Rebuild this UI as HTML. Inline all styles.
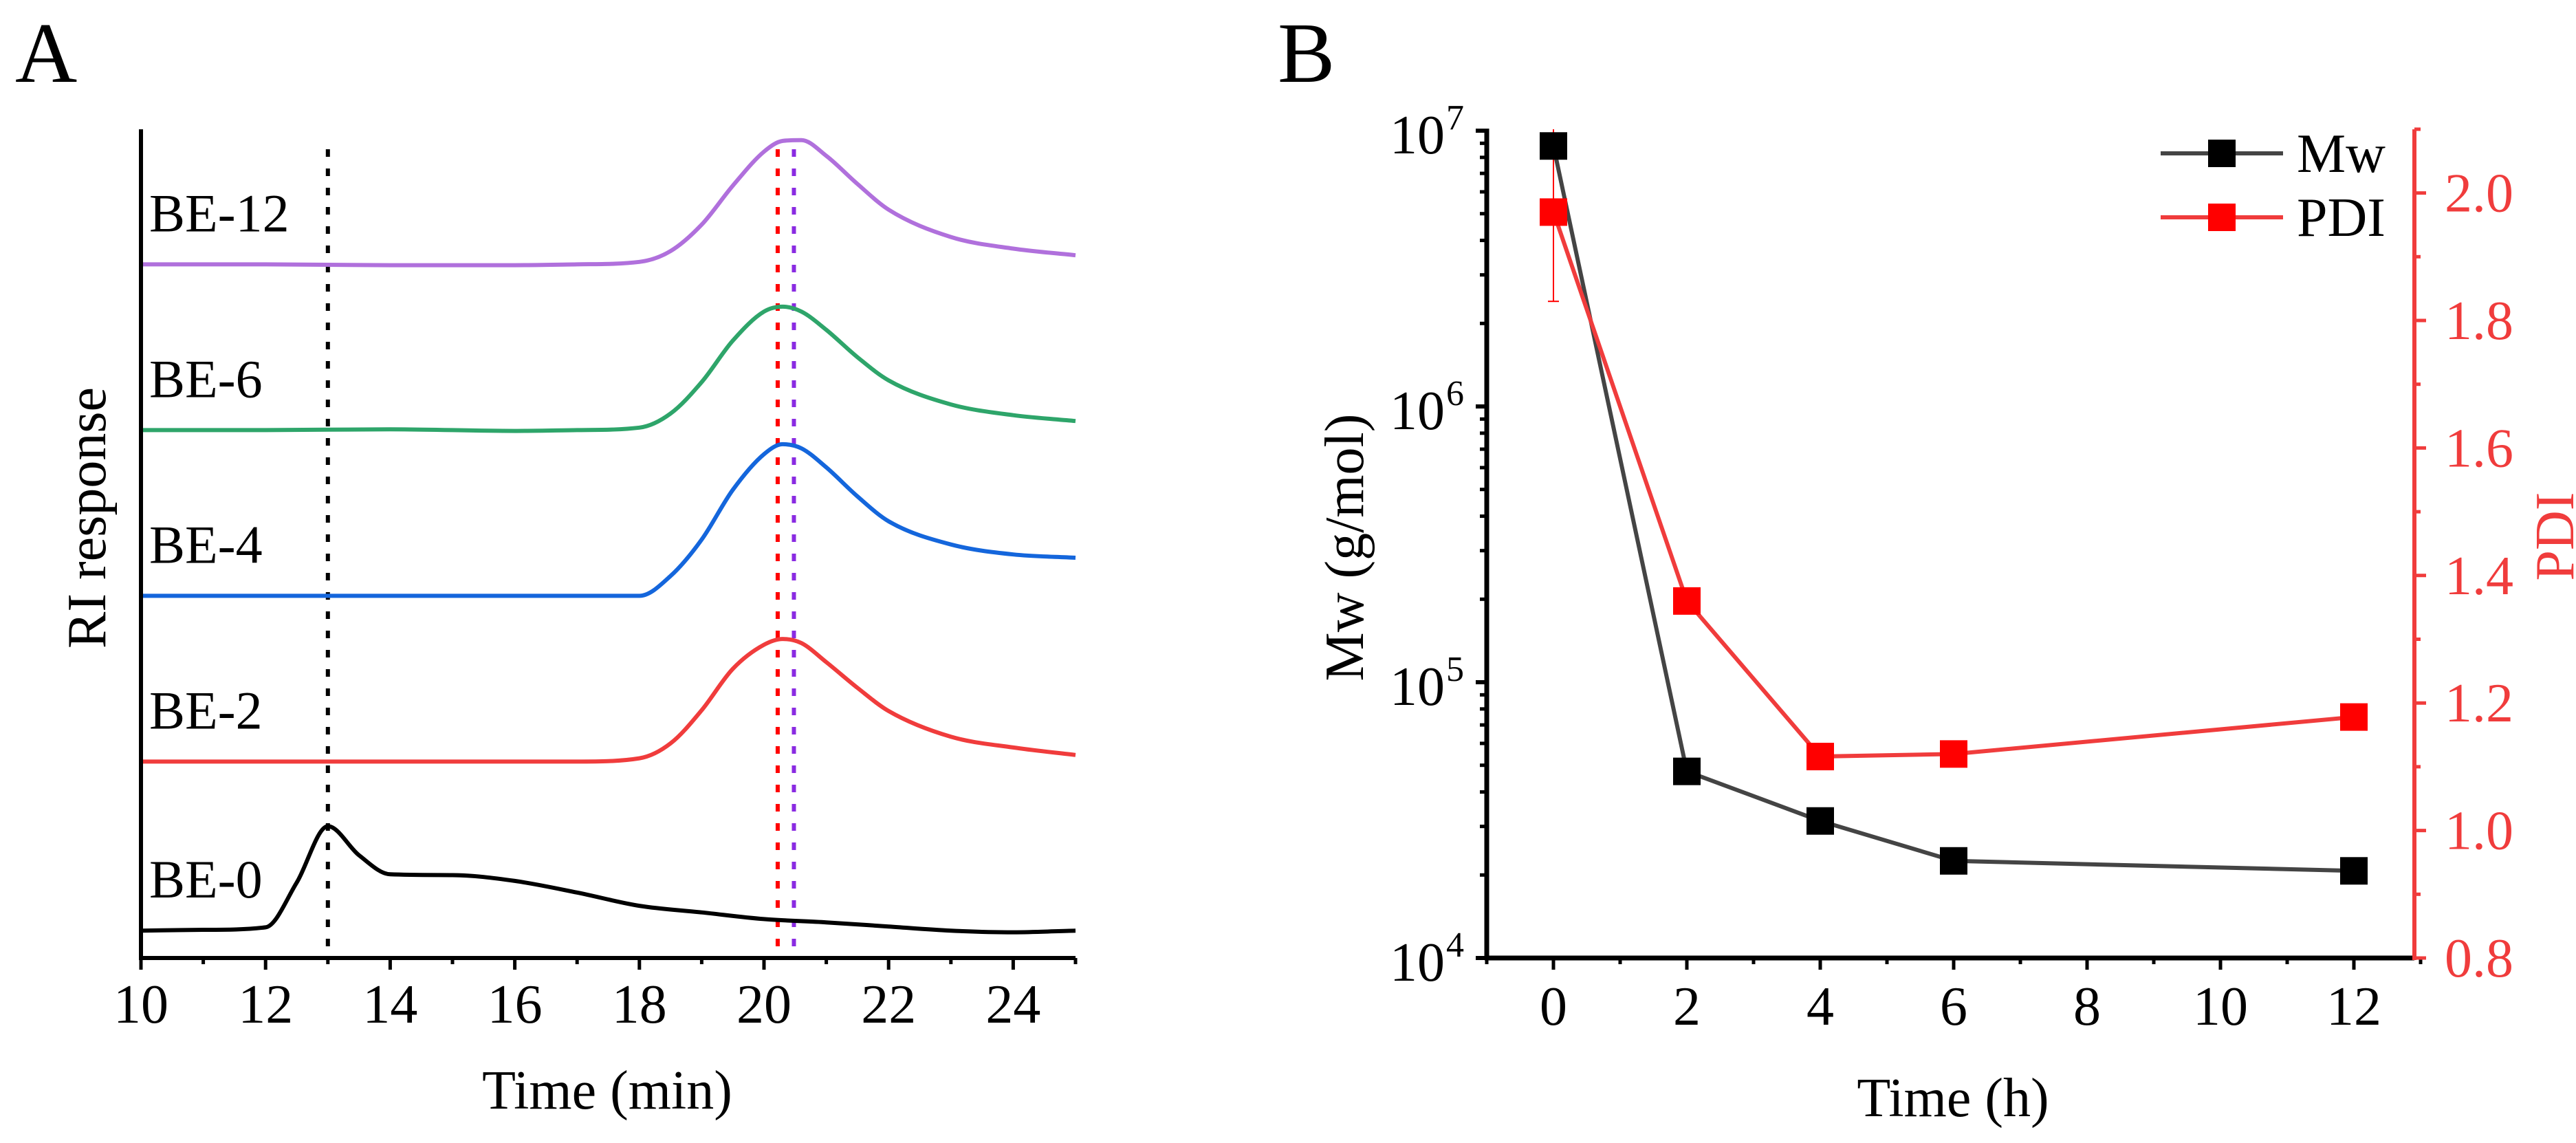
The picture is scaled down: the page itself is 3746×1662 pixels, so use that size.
<!DOCTYPE html>
<html><head><meta charset="utf-8">
<style>
html,body{margin:0;padding:0;background:#fff;}
svg{display:block;font-family:"Liberation Serif","Times New Roman",serif;}
</style></head>
<body>
<svg id="fig" width="3746" height="1662" viewBox="0 0 3746 1662" xmlns="http://www.w3.org/2000/svg">
<rect width="3746" height="1662" fill="#fff"/>
<text x="22" y="119" font-size="125">A</text>
<text x="1858" y="119" font-size="125">B</text>
<g id="pa"></g>
<g id="pb"></g>
</svg>
<script>
// ---------- Panel A data ----------
const gpcTimes = [10,12,14,16,17,18,18.5,19,19.5,20,20.3,20.6,21,21.5,22,23,24,25];
const be2 = [23.7,23.7,23.7,23.7,23.7,24.1,25.9,29.9,34.9,37.8,38.5,38.0,35.7,32.6,29.8,26.7,25.4,24.5];
const be4 = [43.7,43.7,43.7,43.7,43.7,43.7,46.1,50.5,56.5,60.8,62.0,61.5,59.2,55.7,52.7,49.9,48.7,48.3];
const be6 = [63.7,63.7,63.8,63.6,63.7,64.0,65.7,69.5,74.5,78.0,78.6,78.0,75.8,72.5,69.7,66.8,65.5,64.8];
const be12 = [83.7,83.7,83.6,83.6,83.7,84.0,85.3,88.5,93.2,97.3,98.6,98.7,96.8,93.4,90.3,87.0,85.6,84.8];
const be0Times = [10,11,12,12.5,13,13.5,14,15,16,17,18,19,20,21,22,23,24,25];
const be0 = [3.3,3.4,3.7,9.1,15.9,12.4,10.1,10.0,9.3,7.9,6.3,5.5,4.7,4.3,3.8,3.3,3.1,3.3];
const seriesNames = ["BE-0","BE-2","BE-4","BE-6","BE-12"];
const seriesColors = ["#000000","#f03c3c","#1466dc","#2ea56a","#b070dc"];
const refLines = [13, 20.22, 20.48];
const refColors = ["#000000","#ff0000","#8a2be2"];
const xTicksA = [10,12,14,16,18,20,22,24];

// ---------- Panel B data ----------
const hours = [0,2,4,6,12];
const mwValues = [8.8e6, 4.75e4, 3.14e4, 2.25e4, 2.07e4];
const pdiValues = [1.97, 1.36, 1.116, 1.12, 1.178];
const pdiErr = [0.14, 0, 0, 0, 0];
const xTicksB = [0,2,4,6,8,10,12];
const pdiTicks = [0.8,1.0,1.2,1.4,1.6,1.8,2.0];
const mwDecades = [4,5,6,7];

const NS="http://www.w3.org/2000/svg";
function mk(parent,tag,attrs){const e=document.createElementNS(NS,tag);for(const k in attrs)e.setAttribute(k,attrs[k]);parent.appendChild(e);return e;}
// monotone cubic Hermite in pixel space (x increasing)
function smooth(pts){
  const n=pts.length,d=[],m=[];
  for(let i=0;i<n-1;i++)d.push((pts[i+1][1]-pts[i][1])/(pts[i+1][0]-pts[i][0]));
  m[0]=d[0];m[n-1]=d[n-2];
  for(let i=1;i<n-1;i++){m[i]=(d[i-1]*d[i]<=0)?0:(d[i-1]+d[i])/2;}
  for(let i=0;i<n-1;i++){if(d[i]===0){m[i]=0;m[i+1]=0;continue;}const a=m[i]/d[i],b=m[i+1]/d[i],s=a*a+b*b;if(s>9){const t=3/Math.sqrt(s);m[i]=t*a*d[i];m[i+1]=t*b*d[i];}}
  let p="M"+pts[0][0].toFixed(1)+","+pts[0][1].toFixed(1);
  for(let i=0;i<n-1;i++){const h=(pts[i+1][0]-pts[i][0])/3;
    p+=" C"+(pts[i][0]+h).toFixed(1)+","+(pts[i][1]+m[i]*h).toFixed(1)+" "+(pts[i+1][0]-h).toFixed(1)+","+(pts[i+1][1]-m[i+1]*h).toFixed(1)+" "+pts[i+1][0].toFixed(1)+","+pts[i+1][1].toFixed(1);}
  return p;}

// ---------- Panel A ----------
const pa=document.getElementById('pa');
const xA=t=>205+(t-10)*90.6;
const yA=v=>1393-v*12.05;
refLines.forEach((t,i)=>{
  const l=mk(pa,'line',{x1:xA(t),x2:xA(t),y1:217,y2:1393,stroke:refColors[i],'stroke-width':6,'stroke-dasharray':'11 17'});
  
  
});
const allSeries=[[be0Times,be0],[gpcTimes,be2],[gpcTimes,be4],[gpcTimes,be6],[gpcTimes,be12]];
allSeries.forEach((s,i)=>{
  const pts=s[0].map((t,j)=>[xA(t),yA(s[1][j])]);
  const p=mk(pa,'path',{d:smooth(pts),fill:'none',stroke:seriesColors[i],'stroke-width':6,'stroke-linejoin':'round'});
  
  
  const lbl=mk(pa,'text',{x:217,y:yA(s[1][0])-48,'font-size':78});
  lbl.textContent=seriesNames[i];
  
  
});
mk(pa,'line',{x1:205,x2:205,y1:188,y2:1396,stroke:'#000','stroke-width':6});
mk(pa,'line',{x1:202,x2:1564,y1:1393,y2:1393,stroke:'#000','stroke-width':6});
for(let t=10;t<=25;t++){const major=t%2===0;mk(pa,'line',{x1:xA(t),x2:xA(t),y1:1393,y2:1393+(major?17:9),stroke:'#000','stroke-width':5});}
xTicksA.forEach(t=>{const e=mk(pa,'text',{x:xA(t),y:1487,'font-size':80,'text-anchor':'middle'});e.textContent=t;
  
  });
const tA=mk(pa,'text',{x:883,y:1612,'font-size':80,'text-anchor':'middle'});tA.textContent='Time (min)';


const yTA=mk(pa,'text',{x:0,y:0,'font-size':80,'text-anchor':'middle',transform:'translate(153,753) rotate(-90)'});yTA.textContent='RI response';



// ---------- Panel B ----------
const pb=document.getElementById('pb');
const xB=t=>2259+t*97;
const yMw=v=>1393-(Math.log10(v)-4)*401;
const yPdi=v=>1393-(v-0.8)*927;
const mwPts=hours.map((h,i)=>xB(h)+","+yMw(mwValues[i])).join(" ");
const pdiPts=hours.map((h,i)=>xB(h)+","+yPdi(pdiValues[i])).join(" ");
const ml=mk(pb,'polyline',{points:mwPts,fill:'none',stroke:'#444','stroke-width':6});


const pl=mk(pb,'polyline',{points:pdiPts,fill:'none',stroke:'#f03c3c','stroke-width':6});


hours.forEach((h,i)=>{
  if(pdiErr[i]>0){const top=Math.max(188,yPdi(pdiValues[i]+pdiErr[i]));const eb=mk(pb,'line',{x1:xB(h),x2:xB(h),y1:top,y2:yPdi(pdiValues[i]-pdiErr[i]),stroke:'#ff0000','stroke-width':2});
    
    
    mk(pb,'line',{x1:xB(h)-8,x2:xB(h)+8,y1:yPdi(pdiValues[i]-pdiErr[i]),y2:yPdi(pdiValues[i]-pdiErr[i]),stroke:'#ff0000','stroke-width':2});}
});
hours.forEach((h,i)=>{
  const r=mk(pb,'rect',{x:xB(h)-20,y:yPdi(pdiValues[i])-20,width:40,height:40,fill:'#ff0000'});
  
  
});
hours.forEach((h,i)=>{
  const r=mk(pb,'rect',{x:xB(h)-20,y:yMw(mwValues[i])-20,width:40,height:40,fill:'#000'});
  
  
});
mk(pb,'line',{x1:2162,x2:2162,y1:187,y2:1396,stroke:'#000','stroke-width':7});
mwDecades.forEach(d=>{
  const y=yMw(Math.pow(10,d));
  mk(pb,'line',{x1:2146,x2:2162,y1:y,y2:y,stroke:'#000','stroke-width':6});
  const g=mk(pb,'text',{x:2101,y:y+33,'font-size':80,'text-anchor':'end'});g.textContent='10';
  
  
  const s=mk(pb,'text',{x:2103,y:y-2,'font-size':52});s.textContent=d;
  if(d<7)for(let m=2;m<=9;m++){const yy=yMw(m*Math.pow(10,d));mk(pb,'line',{x1:2152,x2:2162,y1:yy,y2:yy,stroke:'#000','stroke-width':5});}
});
mk(pb,'line',{x1:2159,x2:3511,y1:1393,y2:1393,stroke:'#000','stroke-width':7});
for(let t=-1;t<=13;t++){const major=t>=0&&t%2===0;mk(pb,'line',{x1:xB(t),x2:xB(t),y1:1393,y2:1393+(major?17:9),stroke:'#000','stroke-width':5});}
xTicksB.forEach(t=>{const e=mk(pb,'text',{x:xB(t),y:1490,'font-size':80,'text-anchor':'middle'});e.textContent=t;
  
  });
mk(pb,'line',{x1:3511,x2:3511,y1:188,y2:1396,stroke:'#f03c3c','stroke-width':6});
for(let k=0;k<=13;k++){const v=0.8+k*0.1;const y=yPdi(v);const major=k%2===0&&k<=12;mk(pb,'line',{x1:3511,x2:3511+(major?17:9),y1:y,y2:y,stroke:'#f03c3c','stroke-width':5});}
pdiTicks.forEach(v=>{const e=mk(pb,'text',{x:3555,y:yPdi(v)+27,'font-size':80,fill:'#f03c3c'});e.textContent=v.toFixed(1);
  
  });
const tB=mk(pb,'text',{x:2840,y:1623,'font-size':80,'text-anchor':'middle'});tB.textContent='Time (h)';


const yTB=mk(pb,'text',{x:0,y:0,'font-size':80,'text-anchor':'middle',transform:'translate(1982,796) rotate(-90)'});yTB.textContent='Mw (g/mol)';


const yTR=mk(pb,'text',{x:0,y:0,'font-size':80,'text-anchor':'middle',fill:'#f03c3c',transform:'translate(3742,780) rotate(-90)'});yTR.textContent='PDI';


[["Mw","#444","#000",223],["PDI","#f03c3c","#ff0000",316]].forEach((L,i)=>{
  const g=mk(pb,'g',{});
  
  
  mk(g,'line',{x1:3142,x2:3320,y1:L[3],y2:L[3],stroke:L[1],'stroke-width':6});
  mk(g,'rect',{x:3211,y:L[3]-20,width:40,height:40,fill:L[2]});
  const t=mk(g,'text',{x:3340,y:L[3]+27,'font-size':80});t.textContent=L[0];
});
</script>
</body></html>
